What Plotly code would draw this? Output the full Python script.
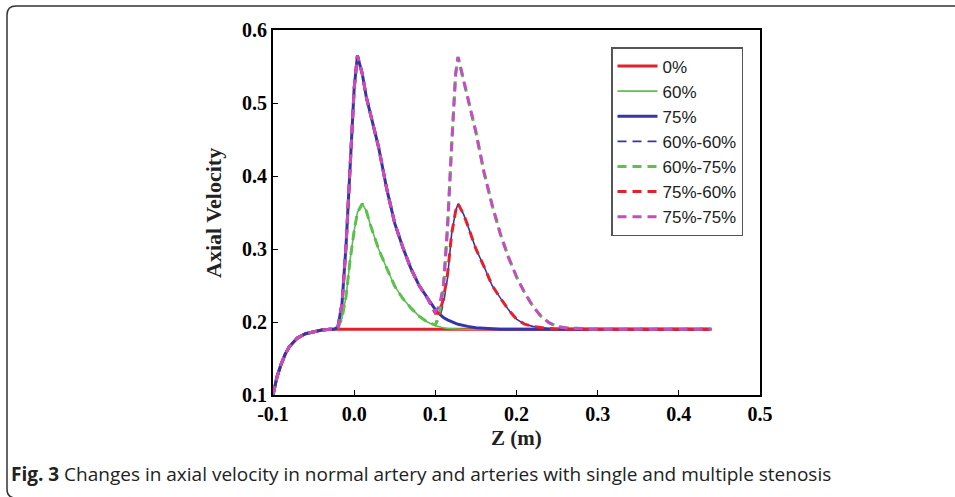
import plotly.graph_objects as go

# ---------------- data ----------------
z = [-0.100, -0.095, -0.090, -0.085, -0.080, -0.070, -0.060, -0.050, -0.040, -0.030,
     -0.025, -0.020, -0.015, -0.010, -0.005, 0.000, 0.004, 0.010, 0.015, 0.020,
     0.030, 0.040, 0.050, 0.060, 0.070, 0.080, 0.090, 0.100, 0.105, 0.110,
     0.115, 0.120, 0.125, 0.128, 0.135, 0.140, 0.150, 0.160, 0.170, 0.180,
     0.190, 0.200, 0.210, 0.220, 0.230, 0.240, 0.250, 0.260, 0.280, 0.300,
     0.350, 0.400, 0.440]

v_0 = [0.100, 0.125, 0.142, 0.156, 0.166, 0.178, 0.184, 0.187, 0.189, 0.190,
       0.190, 0.190, 0.190, 0.190, 0.190, 0.190, 0.190, 0.190, 0.190, 0.190,
       0.190, 0.190, 0.190, 0.190, 0.190, 0.190, 0.190, 0.190, 0.190, 0.190,
       0.190, 0.190, 0.190, 0.190, 0.190, 0.190, 0.190, 0.190, 0.190, 0.190,
       0.190, 0.190, 0.190, 0.190, 0.190, 0.190, 0.190, 0.190, 0.190, 0.190,
       0.190, 0.190, 0.190]

v_60 = [0.100, 0.125, 0.142, 0.156, 0.166, 0.178, 0.184, 0.187, 0.189, 0.190,
        0.190, 0.192, 0.205, 0.235, 0.285, 0.325, 0.350, 0.362, 0.352, 0.333,
        0.300, 0.274, 0.249, 0.232, 0.219, 0.208, 0.200, 0.195, 0.193, 0.192,
        0.191, 0.1905, 0.190, 0.190, 0.190, 0.190, 0.190, 0.190, 0.190, 0.190,
        0.190, 0.190, 0.190, 0.190, 0.190, 0.190, 0.190, 0.190, 0.190, 0.190,
        0.190, 0.190, 0.190]

v_75 = [0.100, 0.125, 0.142, 0.156, 0.166, 0.178, 0.184, 0.187, 0.189, 0.190,
        0.190, 0.193, 0.225, 0.305, 0.415, 0.520, 0.565, 0.540, 0.508, 0.485,
        0.440, 0.383, 0.335, 0.302, 0.273, 0.250, 0.233, 0.217, 0.211, 0.206,
        0.203, 0.200, 0.198, 0.197, 0.195, 0.194, 0.192, 0.191, 0.1905, 0.190,
        0.190, 0.190, 0.190, 0.190, 0.190, 0.190, 0.190, 0.190, 0.190, 0.190,
        0.190, 0.190, 0.190]

v_60_60 = [0.100, 0.125, 0.142, 0.156, 0.166, 0.178, 0.184, 0.187, 0.189, 0.190,
           0.190, 0.192, 0.205, 0.235, 0.285, 0.325, 0.350, 0.362, 0.352, 0.333,
           0.300, 0.274, 0.249, 0.232, 0.219, 0.208, 0.200, 0.196, 0.205, 0.225,
           0.260, 0.320, 0.352, 0.362, 0.347, 0.332, 0.300, 0.276, 0.250, 0.233,
           0.217, 0.204, 0.197, 0.194, 0.192, 0.191, 0.1905, 0.190, 0.190, 0.190,
           0.190, 0.190, 0.190]

v_60_75 = [0.100, 0.125, 0.142, 0.156, 0.166, 0.178, 0.184, 0.187, 0.189, 0.190,
           0.190, 0.192, 0.205, 0.235, 0.285, 0.325, 0.350, 0.362, 0.352, 0.333,
           0.300, 0.274, 0.249, 0.232, 0.219, 0.208, 0.200, 0.196, 0.212, 0.245,
           0.330, 0.440, 0.540, 0.563, 0.530, 0.505, 0.460, 0.405, 0.360, 0.321,
           0.289, 0.262, 0.240, 0.222, 0.208, 0.199, 0.194, 0.192, 0.191, 0.190,
           0.190, 0.190, 0.190]

v_75_60 = [0.100, 0.125, 0.142, 0.156, 0.166, 0.178, 0.184, 0.187, 0.189, 0.190,
           0.190, 0.193, 0.225, 0.305, 0.415, 0.520, 0.565, 0.540, 0.508, 0.485,
           0.440, 0.383, 0.335, 0.302, 0.273, 0.250, 0.233, 0.212, 0.212, 0.232,
           0.265, 0.320, 0.352, 0.362, 0.347, 0.332, 0.300, 0.276, 0.250, 0.233,
           0.217, 0.204, 0.197, 0.194, 0.192, 0.191, 0.1905, 0.190, 0.190, 0.190,
           0.190, 0.190, 0.190]

v_75_75 = [0.100, 0.125, 0.142, 0.156, 0.166, 0.178, 0.184, 0.187, 0.189, 0.190,
           0.190, 0.193, 0.225, 0.305, 0.415, 0.520, 0.565, 0.540, 0.508, 0.485,
           0.440, 0.383, 0.335, 0.302, 0.273, 0.250, 0.233, 0.214, 0.222, 0.250,
           0.330, 0.440, 0.540, 0.563, 0.530, 0.505, 0.460, 0.405, 0.360, 0.321,
           0.289, 0.262, 0.240, 0.222, 0.208, 0.199, 0.194, 0.192, 0.191, 0.190,
           0.190, 0.190, 0.190]

names = ["0%", "60%", "75%", "60%-60%", "60%-75%", "75%-60%", "75%-75%"]
x_ticks = [-0.1, 0.0, 0.1, 0.2, 0.3, 0.4, 0.5]
x_tick_labels = ["-0.1", "0.0", "0.1", "0.2", "0.3", "0.4", "0.5"]
y_ticks = [0.1, 0.2, 0.3, 0.4, 0.5, 0.6]
y_tick_labels = ["0.1", "0.2", "0.3", "0.4", "0.5", "0.6"]
caption_bold = "Fig. 3"
caption_text = " Changes in axial velocity in normal artery and arteries with single and multiple stenosis"

# ---------------- styles ----------------
series = [v_0, v_60, v_75, v_60_60, v_60_75, v_75_60, v_75_75]
colors = ["#e3202b", "#5cc24a", "#3535aa", "#3535aa", "#5cc24a", "#e3202b", "#c44cc4"]
widths = [3, 1.6, 3, 1.6, 3, 3, 3]
dashes = ["solid", "solid", "solid", "9px,6px", "9px,6px", "9px,6px", "9px,6px"]

W, H = 955, 497
L, R, T, B = 273, 760, 30, 395


def px(xp):
    return (xp - L) / (R - L)


def py(yp):
    return (B - yp) / (B - T)


fig = go.Figure()
for nm, vals, c, w, d in zip(names, series, colors, widths, dashes):
    fig.add_trace(go.Scatter(x=z, y=vals, mode="lines", name=nm,
                             line=dict(color=c, width=w, dash=d)))

serif = "Liberation Serif, Times New Roman, serif"
fig.update_layout(
    width=W, height=H,
    margin=dict(l=L, r=W - R, t=T, b=H - B),
    paper_bgcolor="white", plot_bgcolor="white",
    showlegend=True,
    legend=dict(x=px(743), y=py(47), xanchor="right", yanchor="top",
                bgcolor="white", bordercolor="#555555", borderwidth=1.5,
                font=dict(family="Liberation Sans, Arial, sans-serif", size=17, color="#222"),
                tracegroupgap=0, itemwidth=40),
    xaxis=dict(range=[-0.1, 0.5], tickvals=x_ticks, ticktext=x_tick_labels,
               showgrid=False, zeroline=False, showline=True, linecolor="black",
               linewidth=2, mirror=True, ticks="inside", ticklen=5, tickwidth=1,
               tickcolor="black",
               tickfont=dict(family=serif, size=20, color="black", weight="bold")),
    yaxis=dict(range=[0.1, 0.6], tickvals=y_ticks, ticktext=y_tick_labels,
               showgrid=False, zeroline=False, showline=True, linecolor="black",
               linewidth=2, mirror=True, ticks="inside", ticklen=5, tickwidth=1,
               tickcolor="black",
               tickfont=dict(family=serif, size=20, color="black", weight="bold")),
    annotations=[
        dict(text="<b>Axial Velocity</b>", xref="paper", yref="paper",
             x=px(213), y=py(213), textangle=-90, showarrow=False,
             xanchor="center", yanchor="middle",
             font=dict(family=serif, size=22, color="#222")),
        dict(text="<b>Z (m)</b>", xref="paper", yref="paper",
             x=px(516), y=py(438), showarrow=False,
             xanchor="center", yanchor="middle",
             font=dict(family=serif, size=21, color="#222")),
        dict(text="<b>" + caption_bold + "</b>" + caption_text, xref="paper", yref="paper",
             x=px(9), y=py(474), showarrow=False, xanchor="left", yanchor="middle",
             font=dict(family="Open Sans, sans-serif", size=19, color="#222")),
    ],
    shapes=[
        dict(type="path", xref="paper", yref="paper",
             path=(f"M {px(960)},{py(6)} L {px(16)},{py(6)} "
                   f"Q {px(7)},{py(6)} {px(7)},{py(15)} "
                   f"L {px(7)},{py(489)} Q {px(7)},{py(498)} {px(16)},{py(498)} "
                   f"L {px(960)},{py(498)}"),
             line=dict(color="#333333", width=1.5)),
    ],
)

fig.write_html("out.html")
